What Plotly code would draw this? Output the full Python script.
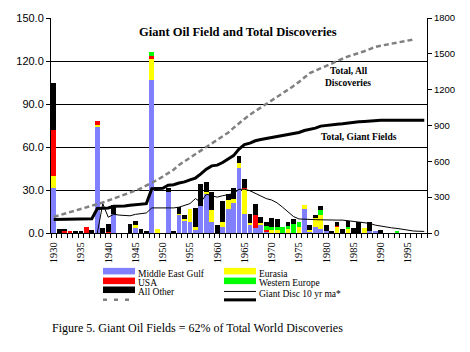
import plotly.graph_objects as go

# ---------------- data ----------------
years = list(range(1930, 1999))  # 1930..1998 categories

# Giant field discoveries by region (left axis, stacked bars), index 0 = 1930
me_gulf = [
    31.5, 0, 0, 0, 0, 0, 0, 0, 74.5, 0,
    0, 13.2, 0, 0, 0, 4, 0, 0, 107, 0,
    0, 28.5, 0, 12.7, 8.8, 7.6, 2, 19, 27, 8,
    0, 4, 17, 21, 45.5, 13.4, 5.8, 3.4, 5.8, 1,
    0, 0, 0, 0, 0, 0, 17, 1.3, 4, 3.1,
    1.5, 0, 0, 0, 0, 0, 0, 0, 1.7, 1.7,
    0, 0, 0, 0, 0, 0, 0, 0, 0]
eurasia = [
    8.5, 0, 0, 0, 0, 0, 0, 0, 1, 0,
    0, 0, 0, 0, 0, 1.3, 0, 0, 14.5, 3,
    0, 0, 0, 0.6, 0.7, 9.2, 2, 0, 1.8, 8,
    0, 3.5, 6, 3, 3, 17.5, 1.2, 0, 1.1, 0,
    2, 2, 0, 2.5, 0, 3.9, 2.3, 0.9, 6.2, 9.5,
    0, 0, 4.2, 0, 3, 0, 0, 3.3, 0, 0,
    0, 0, 0, 0, 0, 0, 0, 0, 0]
usa = [
    32, 0, 1.5, 1.6, 0, 0, 4, 0, 2.5, 0,
    0.7, 0, 0, 0, 0, 0, 0, 0, 2, 0,
    0, 0, 0, 0, 0, 0, 0, 0, 0, 0,
    0, 0, 0, 0, 0, 0.8, 0, 9.2, 0, 1,
    0, 0, 0, 0, 0, 0, 0, 0, 0, 0,
    0, 0, 0.8, 0, 0, 0, 0, 0, 0, 0,
    0, 0, 0, 0, 0, 0, 0, 0, 0]
w_europe = [
    0, 0, 0, 0, 0, 0, 0, 0, 0, 0,
    0, 0, 0, 0, 0, 0, 0, 0, 3, 0,
    0, 0, 0, 0, 0, 0, 0, 0, 0, 0,
    0, 0, 0, 0, 0, 0, 0, 0, 0, 2.6,
    2.4, 2.5, 4.1, 2.5, 6.4, 4.1, 0, 0, 0, 3.5,
    0, 0, 0, 0, 1, 0, 0, 0, 0, 0,
    0, 0, 0, 0.8, 0, 0, 0, 0, 0]
all_other = [
    33, 3, 1.5, 0, 1.6, 1.6, 0, 1.8, 0, 3.5,
    5.8, 6.5, 0, 0, 6, 3, 2.5, 1.5, 0, 0,
    0, 2.8, 1.6, 4.8, 3, 0, 13.4, 15.5, 7, 12.5,
    5.5, 14.5, 4.5, 7.3, 5.5, 6, 6.4, 7.6, 4.5, 3.1,
    6.2, 5.3, 0, 3, 3.5, 0, 0, 3.2, 2.6, 2.5,
    4.3, 1.5, 2.6, 2.5, 4.1, 3.3, 7.6, 0, 5.9, 0,
    2.2, 0, 0, 0, 0, 0, 0, 0, 0]

# Cumulative totals (right axis)
total_all_years = list(range(1930, 1997))
total_all = [
    135, 148, 162, 175, 188, 199, 211, 224, 240, 255,
    272, 288, 303, 318, 335, 355, 373, 395, 418, 445,
    472, 500, 530, 570, 600, 628, 658, 688, 718, 745,
    773, 805, 840, 880, 920, 955, 990, 1020, 1050, 1080,
    1105, 1133, 1165, 1197, 1230, 1265, 1300, 1338, 1360, 1378,
    1395, 1418, 1440, 1462, 1478, 1492, 1505, 1522, 1540, 1558,
    1568, 1577, 1587, 1597, 1606, 1614, 1620]
giant_total = [
    114, 115, 116, 117, 118, 118, 119, 120, 205, 206,
    210, 224, 224, 226, 232, 238, 241, 246, 371, 373,
    375, 400, 404, 418, 428, 445, 460, 495, 535, 562,
    568, 590, 617, 648, 702, 740, 752, 772, 783, 792,
    803, 812, 816, 824, 834, 842, 858, 866, 878, 895,
    902, 904, 911, 914, 921, 924, 931, 934, 939, 941,
    943, 943, 943, 944, 944, 944, 944, 944, 944]

# 10 year moving average of giant discoveries (left axis)
ma_years = list(range(1938, 1999))
giant_ma = [
    0, 20.5,
    11, 13, 12.5, 12, 12, 13, 13.5, 14, 17.5, 17.5,
    17, 17, 17.5, 18, 19, 20.5, 24, 21.5, 27, 26,
    25, 26, 26.5, 27.5, 30.5, 30.5, 29.5, 27.5, 25.5, 24,
    23, 21, 18, 15, 11.5, 9.8, 9.5, 9.5, 9.3, 9.2,
    9, 9, 9, 9, 8.5, 7.8, 7.4, 7.1, 6.7, 5.5,
    4.8, 4, 3.6, 3.2, 2.5, 2, 1.4, 1.2, 1.1]

left_ticks = [0, 30, 60, 90, 120, 150]
right_ticks = [0, 300, 600, 900, 1200, 1500, 1800]
year_ticks = list(range(1930, 1996, 5))

# ---------------- style ----------------
SERIF = "Liberation Serif, Times New Roman, serif"
SANS = "Liberation Sans, Arial, sans-serif"
C_BLUE, C_YEL, C_RED, C_GRN, C_BLK, C_GRAY = "#8080FF", "#FFFF00", "#FF0000", "#00FF00", "#000000", "#808080"

W, H = 470, 352
L, R, T, B = 51, 427, 16, 233


def px(x):
    return (x - L) / (R - L)


def py(y):
    return (B - y) / (B - T)


fig = go.Figure()
for name, vals, col in [("Middle East Gulf", me_gulf, C_BLUE), ("Eurasia", eurasia, C_YEL),
                        ("USA", usa, C_RED), ("Western Europe", w_europe, C_GRN),
                        ("All Other", all_other, C_BLK)]:
    fig.add_trace(go.Bar(x=years, y=vals, name=name, marker=dict(color=col, line=dict(width=0)),
                         showlegend=False))

fig.add_trace(go.Scatter(x=ma_years, y=giant_ma, mode="lines", name="Giant Disc 10 yr ma*",
                         line=dict(color=C_BLK, width=1), showlegend=False))
fig.add_trace(go.Scatter(x=total_all_years, y=total_all, mode="lines", yaxis="y2",
                         name="Total, All Discoveries",
                         line=dict(color=C_GRAY, width=2.5, dash="5px,3px"), showlegend=False))
fig.add_trace(go.Scatter(x=years, y=giant_total, mode="lines", yaxis="y2",
                         name="Total, Giant Fields",
                         line=dict(color=C_BLK, width=3), showlegend=False))

fig.update_layout(
    width=W, height=H, autosize=False,
    margin=dict(l=L, r=W - R, t=T, b=H - B, pad=0),
    paper_bgcolor="white", plot_bgcolor="white",
    barmode="stack", bargap=0.12,
    xaxis=dict(range=[1929.5, 1998.5], tickmode="array", tickvals=year_ticks,
               ticktext=[str(y) for y in year_ticks], tickangle=-90,
               tickfont=dict(family=SERIF, size=10.5, color="black"),
               ticks="outside", ticklen=4, tickcolor="rgba(0,0,0,0)",
               minor=dict(tickmode="linear", tick0=1929.5, dtick=1, ticks="outside",
                          ticklen=4, tickcolor="black", showgrid=False),
               showline=True, linecolor="black", linewidth=1, showgrid=False, zeroline=False),
    yaxis=dict(range=[0, 150], tickmode="array", tickvals=left_ticks,
               ticktext=[f"{v:.1f}" for v in left_ticks],
               tickfont=dict(family=SANS, size=11, color="black"),
               ticks="outside", ticklen=4, tickcolor="black",
               showline=True, linecolor="black", linewidth=1,
               showgrid=True, gridcolor="black", gridwidth=1, zeroline=False),
    yaxis2=dict(range=[0, 1800], overlaying="y", side="right", tickmode="array",
                tickvals=right_ticks, ticktext=[str(v) for v in right_ticks],
                tickfont=dict(family=SANS, size=9.5, color="black"),
                ticks="outside", ticklen=4, tickcolor="black",
                showline=True, linecolor="black", linewidth=1, showgrid=False, zeroline=False),
)

# ---------------- titles / annotations ----------------
ann = [
    dict(text="<b>Giant Oil Field and Total Discoveries</b>", x=px(238), y=py(30),
         font=dict(family=SERIF, size=12.5, color="black"), xanchor="center", yanchor="middle"),
    dict(text="<b>Total, All</b>", x=px(348), y=py(69),
         font=dict(family=SERIF, size=9.5, color="black"), xanchor="center", yanchor="middle"),
    dict(text="<b>Discoveries</b>", x=px(348), y=py(82),
         font=dict(family=SERIF, size=9.5, color="black"), xanchor="center", yanchor="middle"),
    dict(text="<b>Total, Giant Fields</b>", x=px(359), y=py(136.5),
         font=dict(family=SERIF, size=9.5, color="black"), xanchor="center", yanchor="middle"),
    dict(text="Figure 5. Giant Oil Fields = 62% of Total World Discoveries", x=px(50), y=py(329),
         font=dict(family=SERIF, size=12, color="black"), xanchor="left", yanchor="middle"),
]

# ---------------- manual legend (two columns) ----------------
shapes = []
legend_rows = [
    (103, 271.5, "rect", C_BLUE, "Middle East Gulf"),
    (103, 281.3, "rect", C_RED, "USA"),
    (103, 290.3, "rect", C_BLK, "All Other"),
    (103, 300.3, "dash", C_GRAY, ""),
    (224, 271.5, "rect", C_YEL, "Eurasia"),
    (224, 281.3, "rect", C_GRN, "Western Europe"),
    (224, 292.0, "thin", C_BLK, "Giant Disc 10 yr ma*"),
    (224, 300.5, "thick", C_BLK, ""),
]
for x0, yc, kind, col, label in legend_rows:
    x1 = x0 + 32
    if kind == "rect":
        shapes.append(dict(type="rect", xref="paper", yref="paper", x0=px(x0), x1=px(x1),
                           y0=py(yc + 3.3), y1=py(yc - 3.3), fillcolor=col, line=dict(width=0)))
    elif kind == "dash":
        shapes.append(dict(type="line", xref="paper", yref="paper", x0=px(x0), x1=px(x1 - 3),
                           y0=py(yc), y1=py(yc), line=dict(color=col, width=2.5, dash="4px,7px")))
    elif kind == "thin":
        shapes.append(dict(type="line", xref="paper", yref="paper", x0=px(x0), x1=px(x1),
                           y0=py(yc), y1=py(yc), line=dict(color=col, width=1)))
    else:
        shapes.append(dict(type="line", xref="paper", yref="paper", x0=px(x0), x1=px(x1),
                           y0=py(yc), y1=py(yc), line=dict(color=col, width=3)))
    if label:
        ann.append(dict(text=label, x=px(x1 + 1), y=py(yc + 2.5), xanchor="left", yanchor="middle",
                        font=dict(family=SERIF, size=9.5, color="black")))

for a in ann:
    a.update(xref="paper", yref="paper", showarrow=False)
fig.update_layout(annotations=ann, shapes=shapes)

fig.write_html("out.html")
